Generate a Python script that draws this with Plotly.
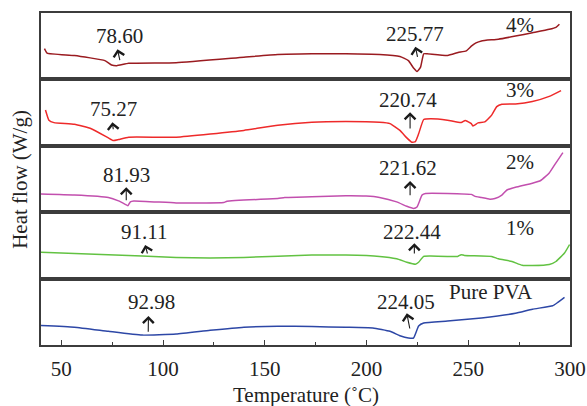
import plotly.graph_objects as go
from plotly.subplots import make_subplots

# ---------------- data ----------------
series_names = ["4%", "3%", "2%", "1%", "Pure PVA"]
series_colors = ["#9a1b20", "#ee2a2a", "#c24fae", "#62c242", "#2d47a6"]

t_4 = [41.7, 43.0, 56.4, 71.4, 74.7, 77.2, 83.1, 106.4, 139.7, 156.4, 173.1, 189.8, 206.4, 216.4, 220.6,
       223.1, 224.8, 226.5, 228.1, 229.8, 239.8, 245.0, 249.0, 251.5, 253.8, 256.5, 264.8, 273.2, 281.5,
       289.8, 293.1, 294.8]
hf_4 = [30.7, 26.3, 23.9, 18.8, 14.4, 13.7, 16.1, 16.7, 22.2, 24.9, 25.6, 25.6, 24.9, 22.9, 18.8,
        11.3, 7.9, 12.0, 25.6, 25.6, 23.9, 26.9, 28.6, 33.2, 36.5, 38.5, 40.2, 43.3, 46.7,
        50.1, 52.1, 55.2]

t_3 = [42.2, 43.9, 46.4, 56.4, 64.7, 73.1, 75.6, 78.1, 83.1, 106.4, 139.7, 156.4, 173.1, 189.8, 206.4,
       211.5, 216.4, 219.8, 222.3, 224.0, 225.6, 228.1, 231.5, 239.8, 246.5, 248.5, 249.8, 251.5, 252.3,
       254.8, 258.1, 261.5, 264.0, 266.5, 273.2, 281.5, 289.8, 295.6]
hf_3 = [35.8, 25.6, 23.2, 21.5, 17.1, 7.9, 5.2, 6.2, 8.6, 8.6, 15.4, 20.5, 23.5, 24.2, 23.5,
        22.2, 15.4, 7.9, 3.5, 4.2, 12.0, 26.3, 27.0, 25.6, 23.2, 25.4, 24.2, 22.2, 19.8,
        22.9, 23.9, 30.7, 39.2, 41.6, 41.9, 44.3, 49.4, 55.2]

t_2 = [39.7, 56.4, 73.1, 78.1, 81.4, 82.7, 83.9, 85.6, 106.4, 129.8, 131.4, 156.4, 159.8, 173.1, 189.8,
       199.8, 206.4, 214.8, 219.8, 223.1, 224.8, 227.3, 229.0, 239.8, 251.5, 253.1, 256.5, 260.6, 263.1,
       266.5, 269.0, 273.2, 281.5, 285.6, 289.8, 293.1, 296.5]
hf_2 = [18.1, 17.1, 14.7, 11.3, 7.9, 6.5, 10.3, 11.3, 9.3, 9.6, 11.0, 13.7, 14.7, 15.4, 16.4,
        16.1, 14.7, 10.3, 5.9, 3.8, 5.2, 17.1, 18.8, 18.8, 17.8, 16.1, 14.7, 13.0, 13.7,
        17.1, 22.2, 24.9, 29.0, 31.7, 39.2, 49.4, 59.6]

t_1 = [39.7, 73.1, 106.4, 123.1, 139.7, 173.1, 189.8, 206.4, 214.8, 219.8, 224.0, 225.6, 228.1, 231.5,
       244.8, 246.5, 248.1, 261.5, 264.8, 271.5, 276.5, 281.5, 289.8, 293.1, 297.3, 299.8]
hf_1 = [26.3, 23.9, 21.2, 20.5, 21.2, 23.5, 23.5, 22.2, 19.8, 16.4, 14.4, 16.4, 22.2, 22.5,
        22.2, 23.9, 23.2, 22.2, 19.8, 17.1, 13.3, 13.0, 14.0, 17.1, 25.6, 34.1]

t_0 = [39.7, 56.4, 73.1, 89.7, 106.4, 123.1, 139.7, 156.4, 173.1, 189.8, 203.1, 211.5, 216.4, 220.6,
       223.1, 225.6, 228.1, 239.8, 256.5, 273.2, 281.5, 291.5, 294.0, 297.3]
hf_0 = [19.5, 17.8, 13.7, 9.9, 11.0, 14.7, 17.8, 18.8, 18.4, 17.8, 17.1, 13.7, 9.3, 7.0,
        7.0, 19.0, 22.0, 23.9, 27.0, 31.7, 35.8, 39.2, 42.6, 47.7]

temps = [t_4, t_3, t_2, t_1, t_0]
flows = [hf_4, hf_3, hf_2, hf_1, hf_0]

# peak labels per panel
peak_labels = [["78.60", "225.77"], ["75.27", "220.74"], ["81.93", "221.62"],
               ["91.11", "222.44"], ["92.98", "224.05"]]
# arrow geometry (temperature head, head level, temperature tail, tail level, text temp, text level)
arrows = [
    [(77.6, 30.1, 78.9, 17.7, 78.4, 43.7), (224.0, 32.7, 225.2, 21.1, 224.0, 45.4)],
    [(75.1, 23.5, 75.6, 15.1, 75.6, 36.8), (221.4, 33.5, 221.4, 15.8, 220.6, 45.8)],
    [(81.9, 24.9, 81.9, 10.5, 82.2, 37.2), (221.4, 31.2, 221.4, 15.5, 220.6, 44.5)],
    [(91.2, 33.6, 92.5, 23.6, 90.7, 46.3), (223.5, 35.3, 223.5, 23.6, 222.4, 46.3)],
    [(92.8, 29.0, 92.7, 11.7, 94.1, 43.3), (219.8, 31.7, 221.4, 15.0, 219.5, 43.3)],
]
name_pos = [(275.3, 54.4), (275.3, 55.8), (275.3, 50.5), (275.5, 50.3), (261.2, 53.3)]

x_ticks = [50, 100, 150, 200, 250, 300]

# ---------------- figure ----------------
FONT = "Liberation Serif"
FRAME = "#3c3c3c"
FS = 21
fig = make_subplots(rows=5, cols=1, shared_xaxes=True, vertical_spacing=0)

for i in range(5):
    fig.add_trace(go.Scatter(x=temps[i], y=flows[i], mode="lines",
                             line=dict(color=series_colors[i], width=1.5, shape="spline", smoothing=0.4),
                             showlegend=False, hoverinfo="skip"), row=i + 1, col=1)
    xr = "x" if i == 0 else f"x{i+1}"
    yr = "y" if i == 0 else f"y{i+1}"
    for lab, (hx, hy, tx, ty, lx, ly) in zip(peak_labels[i], arrows[i]):
        fig.add_annotation(x=hx, y=hy, ax=tx, ay=ty, xref=xr, yref=yr, axref=xr, ayref=yr,
                           text="", showarrow=True, arrowhead=4, arrowsize=1.9, arrowwidth=1.1,
                           arrowcolor="#1a1a1a", standoff=0, startstandoff=0)
        fig.add_annotation(x=lx, y=ly, xref=xr, yref=yr, text=lab, showarrow=False,
                           font=dict(family=FONT, size=FS, color="#222"), xanchor="center", yanchor="middle")
    fig.add_annotation(x=name_pos[i][0], y=name_pos[i][1], xref=xr, yref=yr, text=series_names[i],
                       showarrow=False, font=dict(family=FONT, size=FS, color="#222"),
                       xanchor="center", yanchor="middle")

    fig.update_yaxes(range=[0, 66.4], showline=True, mirror=True, linecolor=FRAME, linewidth=2,
                     showticklabels=False, ticks="", showgrid=False, zeroline=False, automargin=False,
                     row=i + 1, col=1)
    if i < 4:
        fig.update_xaxes(range=[40, 300], showline=True, mirror=True, linecolor=FRAME, linewidth=2,
                         showticklabels=False, ticks="", showgrid=False, zeroline=False, automargin=False,
                         row=i + 1, col=1)
    else:
        fig.update_xaxes(range=[40, 300], showline=True, mirror=True, linecolor=FRAME, linewidth=2,
                         tickvals=x_ticks, ticks="inside", ticklen=5, tickwidth=1.2, tickcolor=FRAME,
                         minor=dict(ticks="inside", ticklen=3, dtick=25, tick0=0, tickcolor=FRAME, tickwidth=1.2),
                         ticklabelstandoff=4, automargin=False,
                         tickfont=dict(family=FONT, size=FS, color="#222"),
                         showgrid=False, zeroline=False, row=i + 1, col=1)

fig.add_annotation(text="Temperature (˚C)", xref="paper", yref="paper", x=0.5, y=-0.151,
                   showarrow=False, xanchor="center", yanchor="middle",
                   font=dict(family=FONT, size=FS, color="#222"))
fig.add_annotation(text="Heat flow (W/g)", xref="paper", yref="paper", x=-0.04, y=0.5,
                   textangle=-90, showarrow=False, xanchor="center", yanchor="middle",
                   font=dict(family=FONT, size=FS, color="#222"))

fig.update_layout(width=587, height=406, margin=dict(l=41, r=17, t=13, b=61),
                  paper_bgcolor="white", plot_bgcolor="white")

fig.write_html("out.html")
